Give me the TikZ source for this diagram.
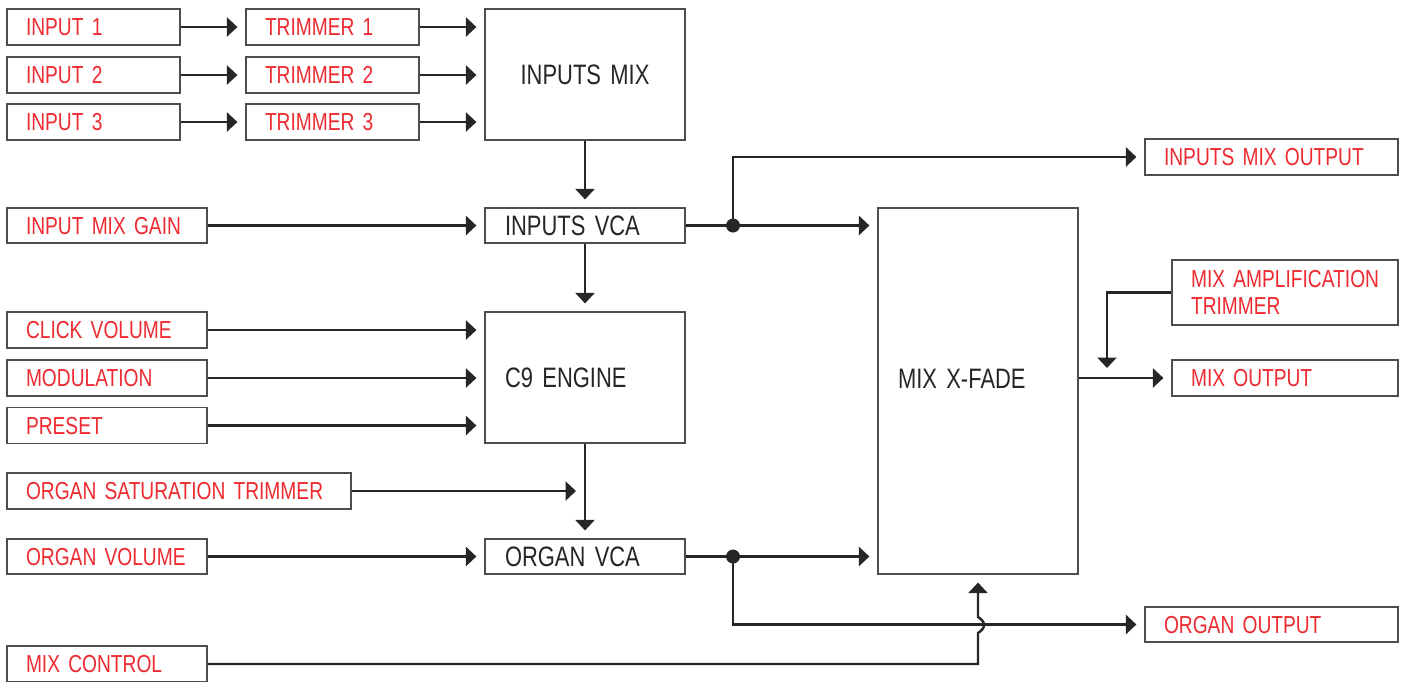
\documentclass[tikz,border=0pt]{standalone}
\usepackage{fontspec}
\newfontfamily\dinFont[FakeStretch=0.78]{Liberation Sans}
\usepackage{tikz}
\usetikzlibrary{arrows.meta, positioning, calc}
\definecolor{synthRouge}{HTML}{EE2A30}
\definecolor{synthEncre}{HTML}{262626}
\definecolor{synthTrait}{HTML}{4D4D4D}
\newcommand{\SansCesure}{\hyphenpenalty=10000\exhyphenpenalty=10000\relax}
\tikzset{
  %% -- Boxes -------------------------------------------------------------
  %% Red labels are the panel controls and jacks, dark labels the modules.
  bloc/.style        = {draw=synthTrait, line width=0.7pt, fill=white,
                        inner ysep=0pt, execute at begin node=\SansCesure},
  blocRouge/.style   = {bloc, text=synthRouge, align=left, inner xsep=0.38cm,
                        text width=#1,
                        font=\dinFont\fontsize{14}{15.4}\selectfont},
  blocEntree/.style  = {blocRouge=#1, minimum height=0.72cm,
                        text height=10.1pt, text depth=0pt},
  blocModule/.style  = {bloc, text=synthEncre, align=left, inner xsep=0.4cm,
                        text width=3.2cm, text height=11.4pt, text depth=0pt,
                        font=\dinFont\fontsize{16}{18}\selectfont},
  %% -- Wires -------------------------------------------------------------
  fleche/.style      = {-{Triangle[length=0.21cm, width=0.38cm]},
                        draw=synthEncre, line width=1.4pt, shorten >=0.16cm},
  jonction/.style    = {circle, fill=synthEncre, inner sep=0pt,
                        minimum size=0.28cm},
}

\begin{document}
\begin{tikzpicture}[x=0.02cm, y=-0.02cm]
\useasboundingbox (0,0) rectangle (1411,681);

%% inputs and trimmers
\foreach \n/\y in {1/27, 2/75, 3/122} {
  \node[blocEntree=2.70cm] (in\n) at (93.5,\y) {INPUT \n};
  \node[blocEntree=2.70cm] (tr\n) at (332.5,\y) {TRIMMER \n};
}
\node[blocModule, align=center, minimum height=2.62cm] (mix) at (585,74.5) {INPUTS MIX};
\node[blocModule, minimum height=0.70cm] (vcaIn) at (585,225.5) {INPUTS VCA};
\node[blocEntree=3.24cm, minimum height=0.70cm] (gain) at (107,225.5) {INPUT MIX GAIN};

%% organ engine
\node[blocEntree=3.24cm] (click) at (107,330) {CLICK VOLUME};
\node[blocEntree=3.24cm] (modul) at (107,378) {MODULATION};
\node[blocEntree=3.24cm] (preset) at (107,425.5) {PRESET};
\node[blocModule, minimum height=2.62cm] (engine) at (585,377.5) {C9 ENGINE};
\node[blocEntree=6.12cm] (sat) at (179,491) {ORGAN SATURATION TRIMMER};
\node[blocEntree=3.24cm, minimum height=0.70cm] (orgVol) at (107,556.5) {ORGAN VOLUME};
\node[blocModule, minimum height=0.70cm] (vcaOrg) at (585,556.5) {ORGAN VCA};
\node[blocEntree=3.24cm] (mixCtl) at (107,664) {MIX CONTROL};

%% crossfade and outputs
\node[blocModule, minimum height=7.32cm, text depth=14.8pt] (xfade) at (978,391) {MIX X-FADE};
\node[blocEntree=4.30cm] (outIn) at (1271.5,157) {INPUTS MIX OUTPUT};
\node[blocRouge=3.76cm, minimum height=1.30cm] (amp) at (1285,292.5)
     {\mbox{MIX AMPLIFICATION}\\TRIMMER};
\node[blocEntree=3.76cm] (outMix) at (1285,378) {MIX OUTPUT};
\node[blocEntree=4.30cm, minimum height=0.70cm] (outOrg) at (1271.5,624.5) {ORGAN OUTPUT};

\node[jonction] (jIn) at (733,225.5) {};
\node[jonction] (jOrg) at (733,556.5) {};
\coordinate (hopBas) at (978,633);
\coordinate (hopHaut) at (978,617);
\coordinate (ampPied) at (1107,378);

%% wires
\foreach \n in {1,2,3} {
  \draw[fleche] (in\n) -- (tr\n);
  \draw[fleche] (tr\n.east) -- (tr\n.east -| mix.west);
}
\draw[fleche] (mix) -- (vcaIn);
\draw[fleche] (gain) -- (vcaIn);
\draw[fleche, shorten >=0pt, -] (vcaIn.east) -- (jIn.center);
\draw[fleche] (jIn.center) -- (jIn -| xfade.west);
\draw[fleche] (jIn.center) |- (outIn.west);
\draw[fleche] (vcaIn) -- (engine);
\foreach \c in {click, modul, preset}
  \draw[fleche] (\c.east) -- (\c.east -| engine.west);
\draw[fleche] (engine) -- (vcaOrg);
\draw[fleche, shorten >=0.18cm] (sat.east) -- (sat.east -| engine.south);
\draw[fleche] (orgVol) -- (vcaOrg);
\draw[fleche, shorten >=0pt, -] (vcaOrg.east) -- (jOrg.center);
\draw[fleche] (jOrg.center) -- (jOrg -| xfade.west);
\draw[fleche] (jOrg.center) |- (outOrg.west);
\draw[fleche] (mixCtl.east) -| (hopBas) .. controls (986,628) and (986,622) .. (hopHaut)
     -- (xfade.south);
\draw[fleche] (outMix.west -| xfade.east) -- (outMix.west);
\draw[fleche, shorten >=0.2cm] (amp.west) -| (ampPied);

\end{tikzpicture}
\end{document}
